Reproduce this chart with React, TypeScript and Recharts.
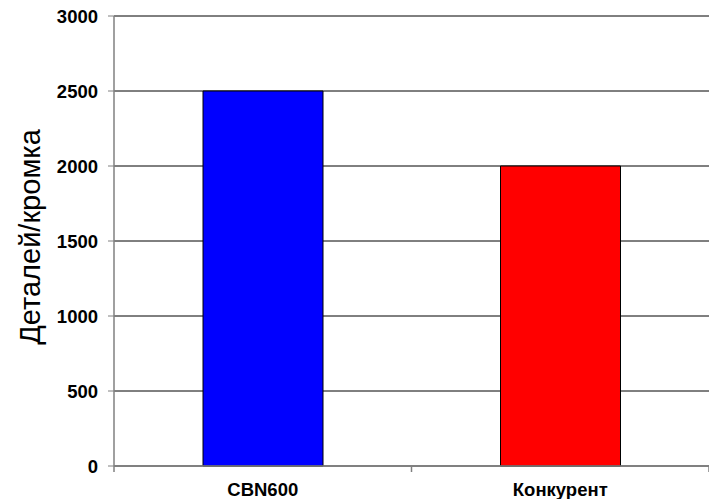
import React from "react";
import { BarChart, Bar, XAxis, YAxis, CartesianGrid, Cell } from "recharts";

const categories = ["CBN600", "Конкурент"];
const values = [2500, 2000];
const colors = ["#0000FF", "#FF0000"];
const yTicks = [0, 500, 1000, 1500, 2000, 2500, 3000];
const yLabel = "Деталей/кромка";

const data = categories.map((c, i) => ({ name: c, value: values[i] }));

const FONT = "Liberation Sans, Arial, sans-serif";
const X_TICK_SIZE = 6;
const X_TICK_MARGIN = 2;

const YLabel = (props: any) => {
  const vb = props.viewBox || {};
  const cx = 30;
  const cy = (vb.y ?? 16) + (vb.height ?? 450) / 2 - 4;
  return (
    <text
      x={cx}
      y={cy}
      transform={`rotate(-90 ${cx} ${cy})`}
      textAnchor="middle"
      dominantBaseline="central"
      fill="#000"
      fontFamily={FONT}
      fontSize={29}
    >
      {yLabel}
    </text>
  );
};

const CatTick = (props: any) => {
  const { x, y, payload, index } = props;
  const half = payload && typeof payload.offset === "number" ? payload.offset : 0;
  const y0 = y - X_TICK_SIZE - X_TICK_MARGIN;
  return (
    <g>
      {half > 0 && (
        <line x1={x - half} y1={y0} x2={x - half} y2={y0 + X_TICK_SIZE} stroke="#808080" strokeWidth={1.5} />
      )}
      {half > 0 && index === categories.length - 1 && (
        <line x1={x + half} y1={y0} x2={x + half} y2={y0 + X_TICK_SIZE} stroke="#808080" strokeWidth={1.5} />
      )}
      <text
        x={x}
        y={y}
        dy={22}
        textAnchor="middle"
        fill="#000"
        fontFamily={FONT}
        fontWeight="bold"
        fontSize={18.5}
      >
        {payload.value}
      </text>
    </g>
  );
};

export default function App() {
  return (
    <div style={{ position: "absolute", left: 0, top: 0, background: "#fff" }}>
      <BarChart
        width={709}
        height={499}
        data={data}
        margin={{ top: 16, right: 0, bottom: 0, left: 0 }}
        barSize={120}
      >
        <CartesianGrid vertical={false} stroke="#000" strokeWidth={1} />
        <XAxis
          dataKey="name"
          height={33}
          axisLine={{ stroke: "#808080", strokeWidth: 1.5 }}
          tickLine={false}
          tickSize={X_TICK_SIZE}
          tickMargin={X_TICK_MARGIN}
          interval={0}
          tick={<CatTick />}
        />
        <YAxis
          width={114}
          domain={[0, 3000]}
          ticks={yTicks}
          interval={0}
          axisLine={{ stroke: "#808080", strokeWidth: 1.5 }}
          tickLine={{ stroke: "#808080" }}
          tickSize={6}
          tickMargin={10}
          tick={{ fill: "#000", fontFamily: FONT, fontWeight: "bold", fontSize: 18.5 }}
          label={<YLabel />}
        />
        <Bar dataKey="value" stroke="#000" strokeWidth={1} isAnimationActive={false}>
          {data.map((d, i) => (
            <Cell key={d.name} fill={colors[i]} />
          ))}
        </Bar>
      </BarChart>
    </div>
  );
}
